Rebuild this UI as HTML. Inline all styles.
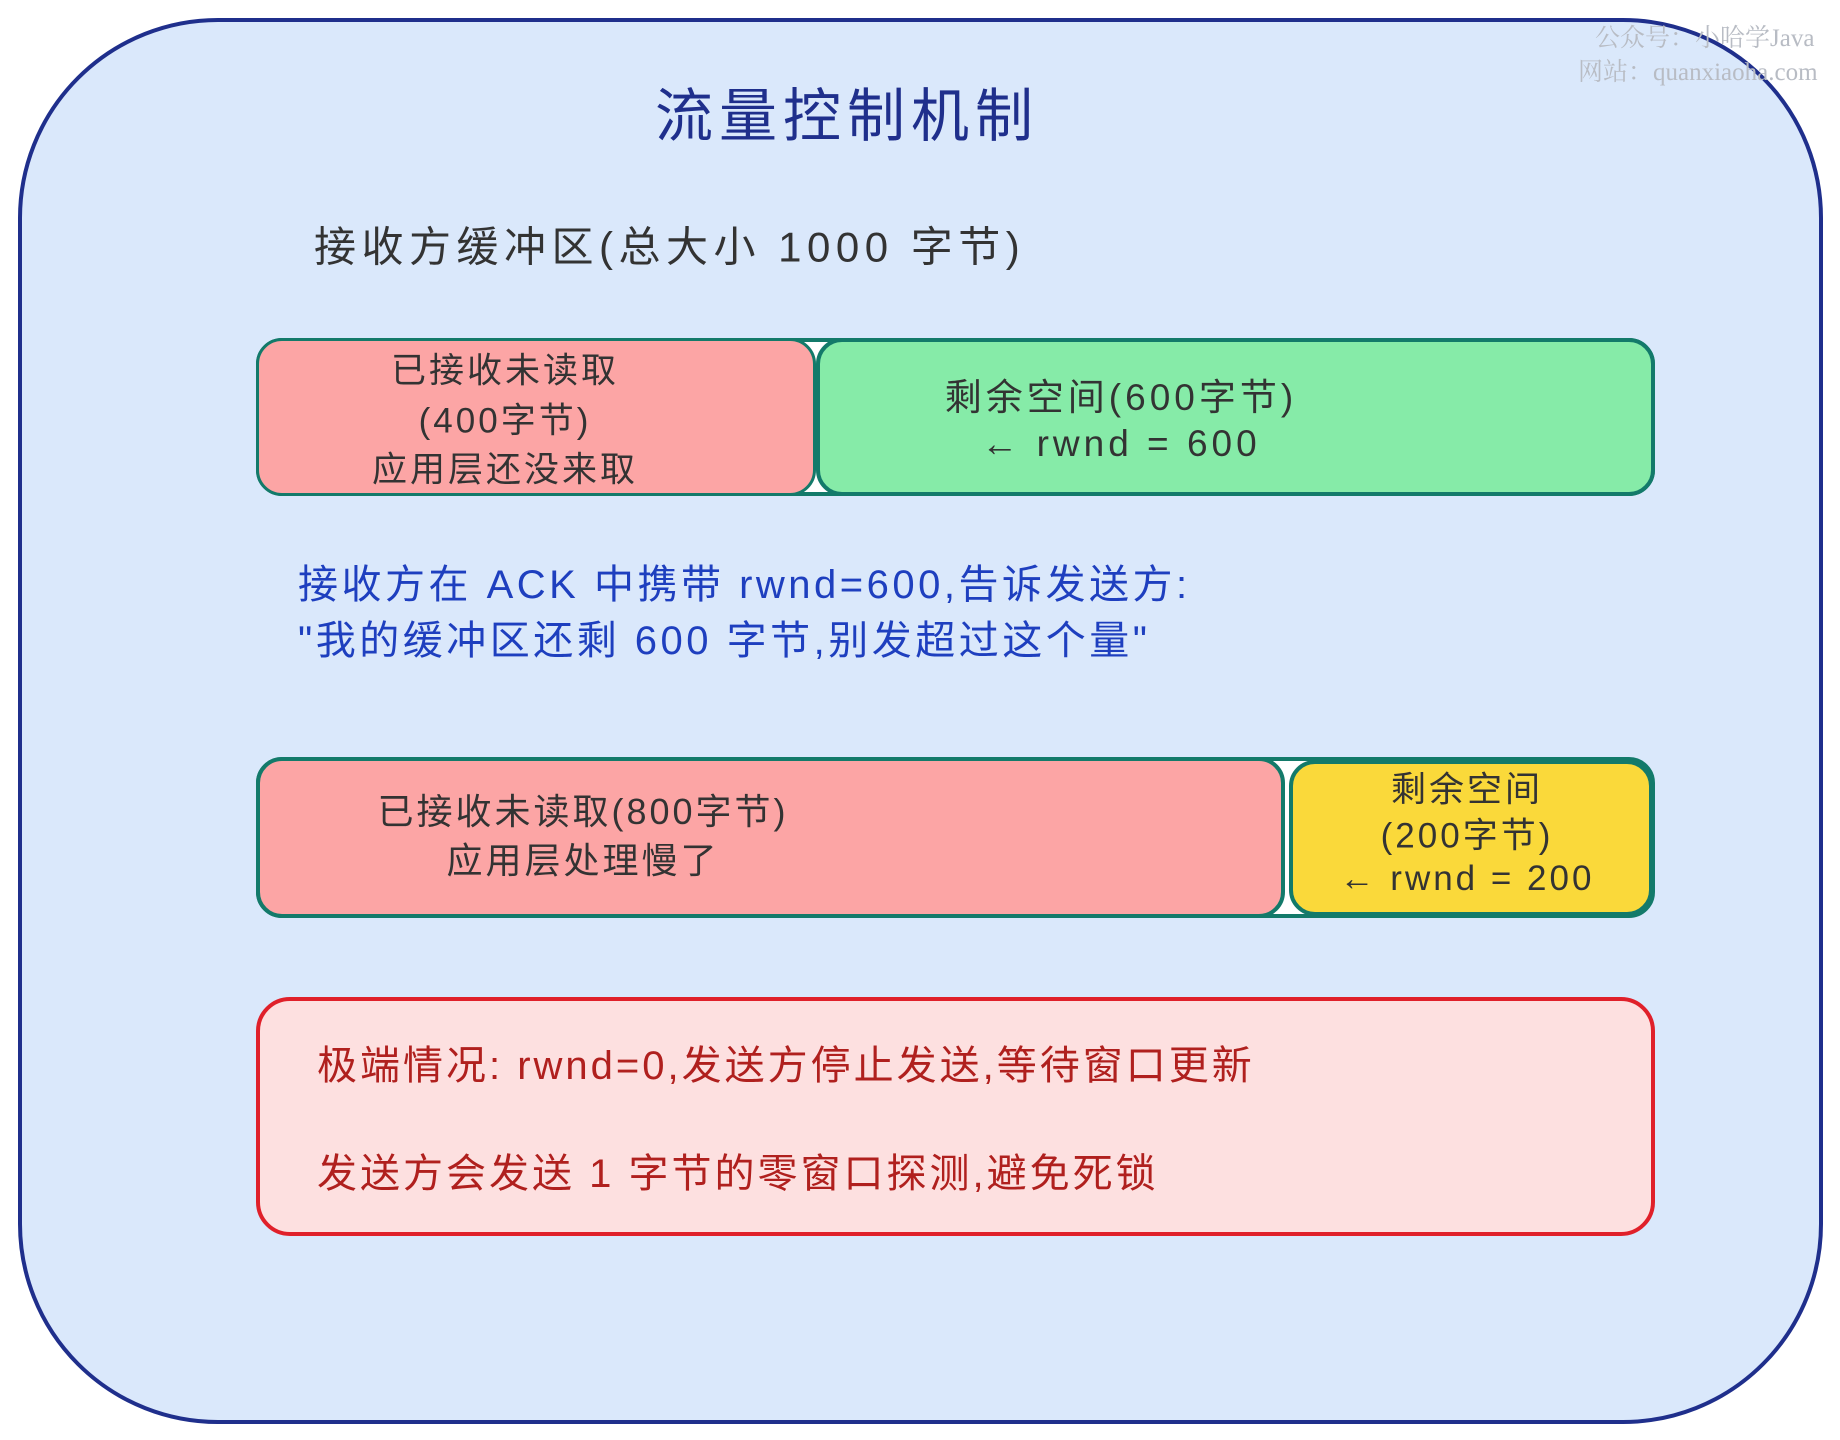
<!DOCTYPE html>
<html><head><meta charset="utf-8"><style>
html,body{margin:0;padding:0;}
body{width:1840px;height:1440px;background:#fff;position:relative;overflow:hidden;font-family:"Liberation Sans","Noto Sans CJK SC",sans-serif;}
.a{position:absolute;}
.t{position:absolute;white-space:nowrap;transform:translate(-50%,-50%);letter-spacing:3px;}
.l{position:absolute;white-space:nowrap;transform:translateY(-50%);}
</style></head><body>
<div class="a" style="left:18px;top:18px;width:1797px;height:1398px;border:4px solid #1f2f8c;border-radius:200px;background:#dae8fb;"></div>
<div class="l" style="left:1595px;top:36px;font-size:25px;color:#b8bcc4;font-family:'Liberation Serif','Noto Serif CJK SC',serif;">公众号：小哈学Java</div>
<div class="l" style="left:1578px;top:70px;font-size:25px;color:#b8bcc4;font-family:'Liberation Serif','Noto Serif CJK SC',serif;">网站：quanxiaoha.com</div>
<div class="t" style="left:847px;top:111px;font-size:58px;color:#1f2f8c;letter-spacing:6px;">流量控制机制</div>
<div class="l" style="left:314px;top:244px;font-size:42px;color:#333;letter-spacing:5.5px;">接收方缓冲区(总大小 1000 字节)</div>

<div class="a" style="left:256px;top:338px;width:1399px;height:158px;border:4px solid #137a6a;border-radius:26px;background:#fff;box-sizing:border-box;"></div>
<div class="a" style="left:256px;top:338px;width:560px;height:158px;border:3px solid #137a6a;border-radius:26px;background:#fca5a5;box-sizing:border-box;"></div>
<div class="a" style="left:816px;top:338px;width:839px;height:158px;border:4px solid #137a6a;border-radius:26px;background:#86eba8;box-sizing:border-box;"></div>
<div class="t" style="left:505px;top:368px;font-size:35px;color:#333;">已接收未读取</div>
<div class="t" style="left:505px;top:418px;font-size:35px;color:#333;">(400字节)</div>
<div class="t" style="left:505px;top:467px;font-size:35px;color:#333;">应用层还没来取</div>
<div class="t" style="left:1121px;top:394px;font-size:37px;color:#333;letter-spacing:4px;">剩余空间(600字节)</div>
<div class="t" style="left:1121px;top:444px;font-size:37px;color:#333;letter-spacing:4px;">← rwnd = 600</div>

<div class="l" style="left:298px;top:581px;font-size:40px;color:#1e3fbf;letter-spacing:3.5px;">接收方在 ACK 中携带 rwnd=600,告诉发送方:</div>
<div class="l" style="left:298px;top:637px;font-size:40px;color:#1e3fbf;letter-spacing:3.5px;">"我的缓冲区还剩 600 字节,别发超过这个量"</div>

<div class="a" style="left:256px;top:757px;width:1399px;height:161px;border:4px solid #137a6a;border-radius:26px;background:#fff;box-sizing:border-box;"></div>
<div class="a" style="left:256px;top:757px;width:1029px;height:161px;border:4px solid #137a6a;border-radius:26px;background:#fca5a5;box-sizing:border-box;"></div>
<div class="a" style="left:1289px;top:760px;width:364px;height:156px;border:4px solid #137a6a;border-radius:26px;background:#fad93a;box-sizing:border-box;"></div>
<div class="t" style="left:583px;top:809px;font-size:36px;color:#333;">已接收未读取(800字节)</div>
<div class="t" style="left:583px;top:858px;font-size:36px;color:#333;">应用层处理慢了</div>
<div class="t" style="left:1467px;top:787px;font-size:35px;color:#333;">剩余空间</div>
<div class="t" style="left:1467px;top:833px;font-size:35px;color:#333;">(200字节)</div>
<div class="t" style="left:1467px;top:879px;font-size:35px;color:#333;">← rwnd = 200</div>

<div class="a" style="left:256px;top:997px;width:1399px;height:239px;border:4px solid #e0202a;border-radius:34px;background:#fde0e0;box-sizing:border-box;"></div>
<div class="l" style="left:317px;top:1062px;font-size:40px;color:#b0201e;letter-spacing:3px;">极端情况: rwnd=0,发送方停止发送,等待窗口更新</div>
<div class="l" style="left:317px;top:1170px;font-size:40px;color:#b0201e;letter-spacing:3px;">发送方会发送 1 字节的零窗口探测,避免死锁</div>
</body></html>
